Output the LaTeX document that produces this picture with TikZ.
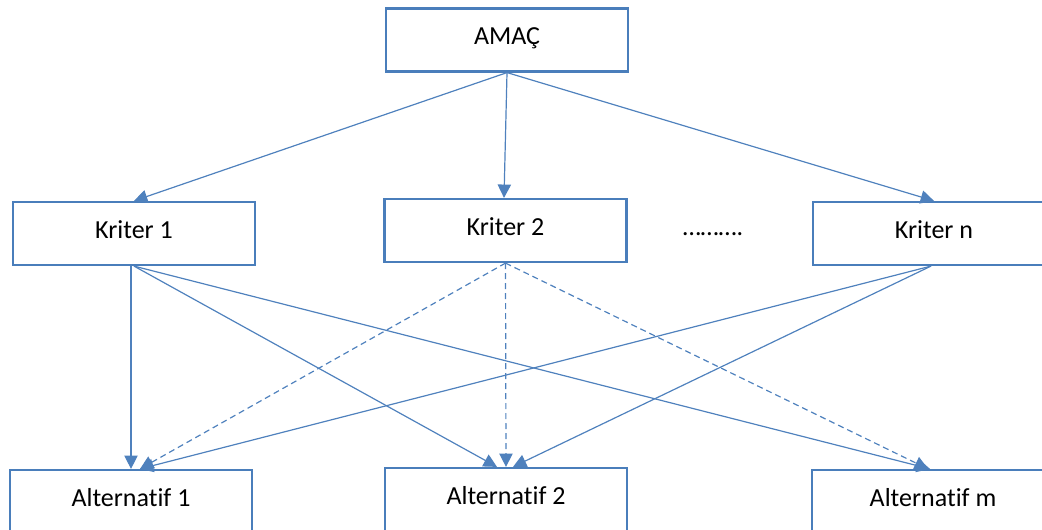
\documentclass[tikz,border=0pt]{standalone}
\usepackage{fontspec}
\setmainfont{Carlito}[Ligatures=NoCommon]
\usetikzlibrary{arrows.meta,calc}
\definecolor{bx}{HTML}{4A7EBB}
\definecolor{ln}{HTML}{4F81BD}
\begin{document}
\begin{tikzpicture}[x=0.75pt,y=-0.75pt,
  box/.style={draw=bx, line width=1.9pt, fill=white, minimum width=181.5pt, minimum height=47pt, inner sep=0pt, text height=12.6pt, text depth=5.2pt, font=\fontsize{19.5}{22}\selectfont},
  conn/.style={draw=ln, line width=0.9pt, -{Triangle[length=10pt,width=10pt]}},
  dconn/.style={conn, dash pattern=on 4.5pt off 3pt}]
\useasboundingbox (0,0) rectangle (1042,530);
\clip (0,0) rectangle (1042,530);
\node[box] (amac) at (507,40) {AMAÇ};
\node[box] (k1) at (134,233.5) {Kriter 1};
\node[box] (k2) at (505.5,230.5) {Kriter 2};
\node[box] (kn) at (934,233.5) {Kriter n};
\node[font=\fontsize{19.5}{22}\selectfont] (dots) at (713,234) {……….};
\node[box] (a1) at (131,501.5) {Alternatif 1};
\node[box] (a2) at (506,499.5) {Alternatif 2};
\node[box] (am) at (933,501.5) {Alternatif m};
% goal to criteria
\draw[conn] (amac.south) -- (k1.north);
\draw[conn] (amac.south) -- ($(k2.north)+(-1.5,0)$);
\draw[conn] (amac.south) -- (kn.north);
% criterion 1
\draw[conn] (a1.north |- k1.south) -- (a1.north);
\draw[conn] (k1.south) -- ($(a2.north)+(-9,0)$);
\draw[conn] (k1.south) -- ($(am.north)+(-3,0)$);
% criterion 2 (dashed)
\draw[dconn] (k2.south) -- ($(a1.north)+(9,0)$);
\draw[dconn] (k2.south) -- (a2.north);
\draw[dconn] (k2.south) -- ($(am.north)+(-5,0)$);
% criterion n
\draw[conn] ($(kn.south)+(-3,0)$) -- ($(a1.north)+(9,0)$);
\draw[conn] ($(kn.south)+(-3,0)$) -- ($(a2.north)+(7,0)$);
\end{tikzpicture}
\end{document}
